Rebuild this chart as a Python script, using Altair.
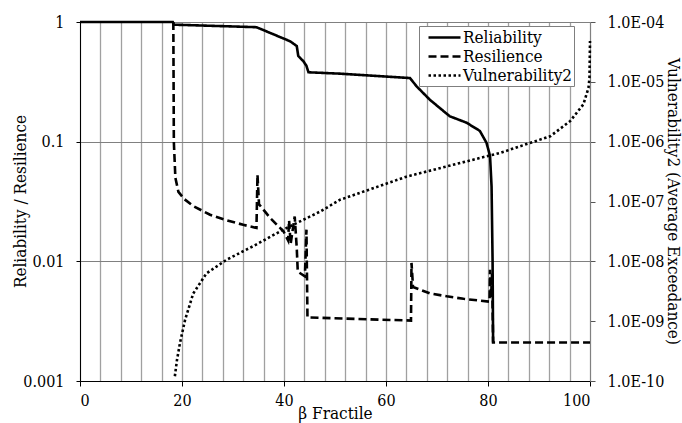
import altair as alt
import pandas as pd

# ---- data ----
rel_x = [0, 18.2, 18.4, 34.6, 41.2, 42.5, 42.8, 43.8, 44.4, 44.8, 51.0, 64.7, 66.0,
         68.6, 72.5, 75.8, 78.4, 79.7, 80.4, 80.7, 80.9, 81.0]
rel_y = [1.0, 1.0, 0.95, 0.905, 0.69, 0.63, 0.52, 0.47, 0.43, 0.38, 0.37, 0.34, 0.29,
         0.224, 0.163, 0.144, 0.123, 0.098, 0.076, 0.042, 0.01, 0.0021]

res_x = [18.3, 18.4, 18.7, 19.3, 20.5, 22.2, 25.5, 28.8, 32.0, 34.6, 34.8, 35.1, 37.3,
         39.9, 40.8, 41.0, 41.3, 42.1, 42.5, 42.7, 44.1, 44.4, 44.6, 54.0, 64.9, 65.0,
         65.3, 68.6, 71.9, 75.2, 80.3, 80.4, 80.6, 80.8, 81.0, 100.0]
res_y = [1.0, 0.1, 0.05, 0.038, 0.033, 0.029, 0.0245, 0.022, 0.0202, 0.019, 0.053, 0.03,
         0.023, 0.0178, 0.015, 0.022, 0.014, 0.0237, 0.0129, 0.0082, 0.0075, 0.0184,
         0.0034, 0.0033, 0.0032, 0.0097, 0.0061, 0.0054, 0.0051, 0.00486, 0.0046,
         0.0085, 0.005, 0.008, 0.0021, 0.0021]

vul_x = [18.6, 19.0, 19.6, 20.6, 22.2, 24.8, 28.8, 34.0, 39.9, 47.1, 51.0, 64.0, 77.1,
         82.4, 88.2, 92.2, 96.1, 98.7, 99.7, 99.9, 100.0]
vul_y = [1.2e-10, 2.2e-10, 4.3e-10, 1.05e-9, 2.9e-9, 6.3e-9, 1.07e-8, 1.8e-8, 3.4e-8,
         6.8e-8, 1.07e-7, 2.6e-7, 5.0e-7, 6.5e-7, 9.5e-7, 1.23e-6, 2.2e-6, 4.2e-6,
         7.9e-6, 1.17e-5, 4.8e-5]

series_names = ["Reliability", "Resilience", "Vulnerability2"]
dash_patterns = [[1, 0], [8, 4], [2.5, 2.5]]
x_label_ticks = [0, 20, 40, 60, 80, 100]
x_grid_ticks = list(range(0, 101, 4))
left_ticks = [0.001, 0.01, 0.1, 1]
right_ticks = [1e-10, 1e-9, 1e-8, 1e-7, 1e-6, 1e-5, 1e-4]


def frame(xs, ys, name):
    return pd.DataFrame({"x": xs, "y": ys, "series": name, "order": list(range(len(xs)))})


left_df = pd.concat([frame(rel_x, rel_y, "Reliability"),
                     frame(res_x, res_y, "Resilience")], ignore_index=True)
right_df = frame(vul_x, vul_y, "Vulnerability2")

FONT = "DejaVu Serif Condensed, DejaVu Serif"

x_scale = alt.Scale(domain=[0, 100], nice=False, zero=False)

dash = alt.StrokeDash(
    "series:N",
    scale=alt.Scale(domain=series_names, range=dash_patterns),
    legend=alt.Legend(
        title=None, orient="none", legendX=339, legendY=4,
        labelFont=FONT, labelFontSize=17, labelColor="black",
        symbolType="M-2,0H2", symbolSize=256, symbolStrokeWidth=2.6,
        symbolOffset=14, labelOffset=9,
        symbolStrokeColor="black", strokeColor="#7f7f7f", fillColor="white",
        padding=2, rowPadding=1,
    ),
)

left = alt.Chart(left_df).mark_line(color="black", strokeWidth=2.6).encode(
    x=alt.X("x:Q", scale=x_scale,
            axis=alt.Axis(values=x_label_ticks, grid=False, title="β Fractile",
                          labelFont=FONT, labelFontSize=16, labelColor="black",
                          titleFont=FONT, titleFontSize=17, titleFontWeight="normal",
                          titleColor="black", titleBaseline="bottom", titleY=41,
                          tickSize=5, tickColor="black", domainColor="black",
                          labelPadding=6)),
    y=alt.Y("y:Q", scale=alt.Scale(type="log", domain=[0.001, 1]),
            axis=alt.Axis(values=left_ticks, format="~g", grid=True,
                          gridColor="#808080", gridWidth=1,
                          title="Reliability / Resilience",
                          labelFont=FONT, labelFontSize=16, labelColor="black",
                          titleFont=FONT, titleFontSize=17, titleFontWeight="normal",
                          titleColor="black", titleX=-60, titleY=179,
                          titleAlign="center", titleBaseline="middle",
                          tickSize=4, tickColor="black", domainColor="black",
                          labelPadding=12)),
    strokeDash=dash,
    order="order:Q",
)

right = alt.Chart(right_df).mark_line(color="black", strokeWidth=2.6).encode(
    x=alt.X("x:Q", scale=x_scale,
            axis=alt.Axis(orient="top", values=x_grid_ticks, grid=True,
                          gridColor="#a0a0a0", gridWidth=1.3, labels=False,
                          ticks=False, domain=False, title=None)),
    y=alt.Y("y:Q", scale=alt.Scale(type="log", domain=[1e-10, 1e-4]),
            axis=alt.Axis(orient="right", values=right_ticks, grid=False,
                          labelExpr="'1.0E-' + (round(-log(datum.value)/LN10) < 10 ? '0' : '') + round(-log(datum.value)/LN10)",
                          title="Vulnerability2 (Average Exceedance)",
                          labelFont=FONT, labelFontSize=16, labelColor="black",
                          titleFont=FONT, titleFontSize=17, titleFontWeight="normal",
                          titleColor="black", titleAngle=90, titleX=82, titleY=179,
                          titleAlign="center", titleBaseline="middle",
                          tickSize=5, tickColor="#555555", domainColor="#808080",
                          labelPadding=12)),
    strokeDash=dash,
    order="order:Q",
)

chart = (
    alt.layer(left, right)
    .resolve_scale(y="independent")
    .resolve_axis(x="independent")
    .properties(
        width=510, height=359,
        autosize=alt.AutoSizeParams(type="none"),
        padding={"left": 80, "top": 22, "right": 92, "bottom": 42},
        background="white",
    )
    .configure_view(strokeWidth=0)
)

chart.save("out.html", embed_options={"renderer": "svg", "actions": False})
